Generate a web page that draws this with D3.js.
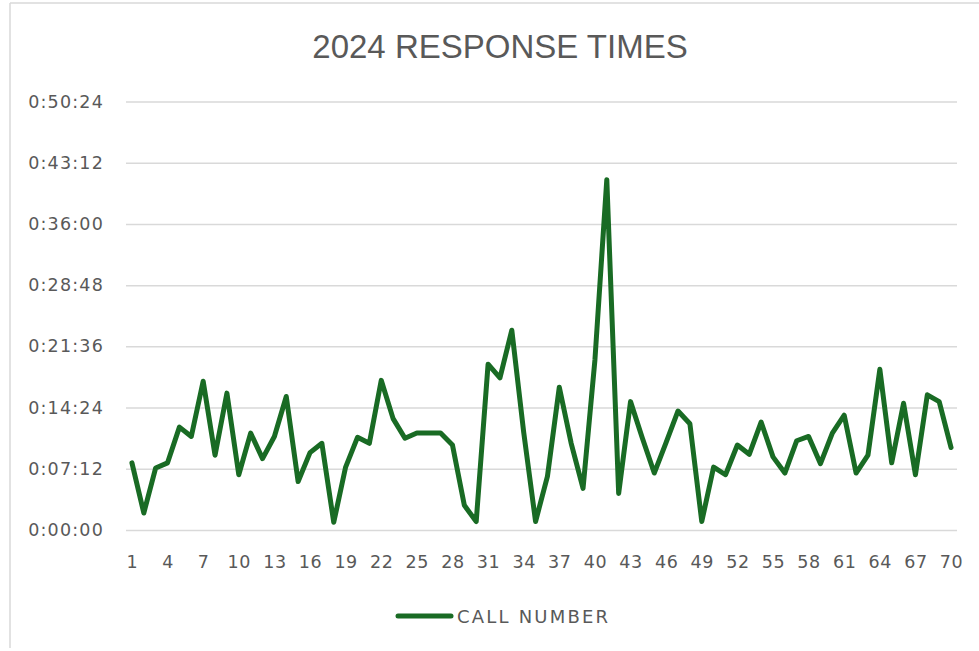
<!DOCTYPE html>
<html>
<head>
<meta charset="utf-8">
<script src="https://cdn.jsdelivr.net/npm/d3@7"></script>
<style>
  body { margin: 0; background: #fff; }
  svg { display: block; }
</style>
</head>
<body>
<svg id="chart" width="979" height="651"></svg>
<script>
// response time per call, in minutes
const callNumbers = d3.range(1, 71);
const responseMinutes = [
  7.9, 2.0, 7.3, 7.9, 12.1, 11.0, 17.5, 8.8, 16.1, 6.5,
  11.4, 8.4, 11.0, 15.7, 5.7, 9.1, 10.2, 0.9, 7.4, 10.9,
  10.2, 17.6, 13.1, 10.8, 11.4, 11.4, 11.4, 10.0, 2.9, 1.0,
  19.5, 17.9, 23.5, 11.5, 1.0, 6.3, 16.8, 10.2, 4.9, 20.0,
  41.2, 4.3, 15.1, 10.8, 6.7, 10.3, 14.0, 12.5, 1.0, 7.4,
  6.5, 10.0, 8.9, 12.7, 8.6, 6.7, 10.5, 11.0, 7.8, 11.4,
  13.5, 6.7, 8.8, 18.9, 7.9, 14.9, 6.5, 15.9, 15.1, 9.7
];
const yTickSeconds = d3.range(0, 3025, 432); // 0:00:00 .. 0:50:24 every 7:12
const xTickCalls = d3.range(1, 71, 3);
const chartTitle = "2024 RESPONSE TIMES";
const seriesName = "CALL NUMBER";

const green = "#196B24";
const textColor = "#595959";
const gridColor = "#d9d9d9";

const data = callNumbers.map((c, i) => ({ call: c, sec: responseMinutes[i] * 60 }));

function fmtTime(s) {
  const h = Math.floor(s / 3600);
  const m = Math.floor((s % 3600) / 60);
  const ss = Math.round(s % 60);
  return h + ":" + String(m).padStart(2, "0") + ":" + String(ss).padStart(2, "0");
}

const svg = d3.select("#chart");

// chart frame (left and top edges visible)
svg.append("line").attr("x1", 10).attr("x2", 10).attr("y1", 3).attr("y2", 648)
  .attr("stroke", gridColor).attr("stroke-width", 1.5);
svg.append("line").attr("x1", 10).attr("x2", 979).attr("y1", 3).attr("y2", 3)
  .attr("stroke", gridColor).attr("stroke-width", 1.5);

const plotLeft = 126, plotRight = 957, plotTop = 101.5, plotBottom = 530;

const x = d3.scalePoint()
  .domain(callNumbers)
  .range([plotLeft, plotRight])
  .padding(0.5);

const y = d3.scaleLinear()
  .domain([0, 3024])
  .range([plotBottom, plotTop]);

// title
svg.append("text")
  .attr("x", 500)
  .attr("y", 58)
  .attr("text-anchor", "middle")
  .attr("font-family", "Liberation Sans, Arial, sans-serif")
  .attr("font-size", 33)
  .attr("fill", textColor)
  .text(chartTitle);

// y axis with gridlines
const yAxis = svg.append("g")
  .attr("transform", `translate(${plotLeft},0)`)
  .call(d3.axisLeft(y)
    .tickValues(yTickSeconds)
    .tickFormat(fmtTime)
    .tickSize(-(plotRight - plotLeft))
    .tickPadding(22));
yAxis.select(".domain").remove();
yAxis.selectAll("line").attr("stroke", gridColor).attr("stroke-width", 1.5);
yAxis.selectAll("text")
  .attr("fill", textColor)
  .attr("font-family", "DejaVu Sans, sans-serif")
  .attr("font-size", 17.5)
  .attr("letter-spacing", 1.2);

// x axis
const xAxis = svg.append("g")
  .attr("transform", `translate(0,${plotBottom})`)
  .call(d3.axisBottom(x)
    .tickValues(xTickCalls)
    .tickSize(0)
    .tickPadding(26));
xAxis.select(".domain").remove();
xAxis.selectAll("text")
  .attr("fill", textColor)
  .attr("font-family", "DejaVu Sans, sans-serif")
  .attr("font-size", 17.5)
  .attr("letter-spacing", 0.6);

// series line
const line = d3.line()
  .x(d => x(d.call))
  .y(d => y(d.sec));

svg.append("path")
  .datum(data)
  .attr("d", line)
  .attr("fill", "none")
  .attr("stroke", green)
  .attr("stroke-width", 5)
  .attr("stroke-linejoin", "round")
  .attr("stroke-linecap", "round");

// legend
const legend = svg.append("g").attr("transform", "translate(398,616)");
legend.append("line")
  .attr("x1", 0).attr("x2", 53)
  .attr("stroke", green).attr("stroke-width", 5).attr("stroke-linecap", "round");
legend.append("text")
  .attr("x", 59)
  .attr("y", 6.5)
  .attr("fill", textColor)
  .attr("font-family", "DejaVu Sans, sans-serif")
  .attr("font-size", 18)
  .attr("letter-spacing", 2.2)
  .text(seriesName);
</script>
</body>
</html>
